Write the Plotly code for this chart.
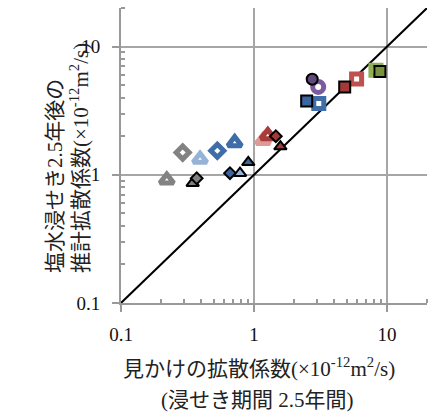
import plotly.graph_objects as go

# Apparent vs. estimated chloride diffusion coefficients (x10^-12 m2/s)
# Open markers: one group of specimens; black-edged markers: the other group.
open_labels = ["gray_tri", "gray_dia", "lblue_tri", "blue_dia", "blue_tri",
               "pink_tri", "red_tri", "purple_cir", "blue_sq", "red_sq", "green_sq"]
open_x = [0.221, 0.291, 0.393, 0.53, 0.716, 1.17, 1.27, 3.04, 3.07, 5.91, 8.26]
open_y = [0.91, 1.49, 1.32, 1.54, 1.78, 1.85, 2.02, 4.85, 3.6, 5.6, 6.54]

solid_labels = ["gray_tri", "gray_dia", "blue_dia", "lblue_tri", "blue_tri",
                "red_dia", "red_tri", "purple_cir", "blue_sq", "red_sq", "green_sq"]
solid_x = [0.346, 0.371, 0.66, 0.785, 0.906, 1.46, 1.58, 2.74, 2.49, 4.81, 8.85]
solid_y = [0.86, 0.94, 1.03, 1.03, 1.25, 2.0, 1.66, 5.57, 3.77, 4.85, 6.38]

# Reference line y = x
line_x = [0.1, 20]
line_y = [0.1, 20]

major_ticks = [0.1, 1, 10]
major_text = ["0.1", "1", "10"]
minor_ticks = [0.2, 0.3, 0.4, 0.5, 0.6, 0.7, 0.8, 0.9,
               2, 3, 4, 5, 6, 7, 8, 9, 20]

# Styles
open_style = {
    "gray_tri": ("triangle-up", "#828282", 12),
    "gray_dia": ("diamond", "#828282", 10),
    "lblue_tri": ("triangle-up", "#95b3d7", 12),
    "blue_dia": ("diamond", "#3f6da8", 10),
    "blue_tri": ("triangle-up", "#3f6da8", 12),
    "pink_tri": ("triangle-up", "#dc9a98", 12),
    "red_tri": ("triangle-up", "#a83c3a", 12),
    "purple_cir": ("circle", "#7b5b9e", 11),
    "blue_sq": ("square", "#3f6da8", 10),
    "red_sq": ("square", "#c0504d", 10),
    "green_sq": ("square", "#8fb153", 10),
}
solid_style = {
    "gray_tri": ("triangle-up", "#808080", 11),
    "gray_dia": ("diamond", "#808080", 9),
    "blue_dia": ("diamond", "#3a66a0", 9),
    "lblue_tri": ("triangle-up", "#95b3d7", 11),
    "blue_tri": ("triangle-up", "#3a66a0", 11),
    "red_dia": ("diamond", "#a33a38", 9),
    "red_tri": ("triangle-up", "#a33a38", 11),
    "purple_cir": ("circle", "#604a7b", 11),
    "blue_sq": ("square", "#3a66a0", 11),
    "red_sq": ("square", "#a33a38", 11),
    "green_sq": ("square", "#77933c", 11),
}

FONT = "Liberation Serif, 'Times New Roman', 'Noto Sans CJK JP', serif"
TITLE_SIZE = 21

fig = go.Figure()

fig.add_trace(go.Scatter(
    x=line_x, y=line_y, mode="lines",
    line=dict(color="black", width=2), hoverinfo="skip", showlegend=False))

for lab, xv, yv in zip(open_labels, open_x, open_y):
    sym, col, size = open_style[lab]
    fig.add_trace(go.Scatter(
        x=[xv], y=[yv], mode="markers", name=lab, showlegend=False,
        marker=dict(symbol=sym, size=size, color="white",
                    line=dict(color=col, width=5))))

for lab, xv, yv in zip(solid_labels, solid_x, solid_y):
    sym, col, size = solid_style[lab]
    fig.add_trace(go.Scatter(
        x=[xv], y=[yv], mode="markers", name=lab, showlegend=False,
        marker=dict(symbol=sym, size=size, color=col,
                    line=dict(color="black", width=2))))

axis_common = dict(
    type="log",
    range=[-1, 1.30103],
    tickmode="array",
    tickvals=major_ticks,
    ticktext=major_text,
    ticks="outside",
    ticklen=7,
    tickwidth=2,
    tickcolor="#999999",
    showgrid=True,
    gridcolor="#a6a6a6",
    gridwidth=2,
    showline=True,
    linecolor="#999999",
    linewidth=2,
    zeroline=False,
    tickfont=dict(family=FONT, size=19, color="#111111"),
    minor=dict(tickmode="array", tickvals=minor_ticks, ticks="inside",
               ticklen=4, tickwidth=2, tickcolor="#999999", showgrid=False),
)

fig.update_layout(
    width=429, height=419,
    margin=dict(l=121, r=2, t=8, b=116),
    paper_bgcolor="white", plot_bgcolor="white",
    xaxis=dict(axis_common, ticklabelstandoff=6),
    yaxis=dict(axis_common, ticklabelstandoff=8),
    font=dict(family=FONT, size=19, color="#222222"),
)

title_font = dict(family=FONT, size=TITLE_SIZE, color="#222222")

# Axis titles
fig.add_annotation(
    text="見かけの拡散係数(×10<sup>-12</sup>m<sup>2</sup>/s)",
    xref="paper", yref="paper", x=0.451, y=-0.218,
    xanchor="center", yanchor="middle", showarrow=False, font=title_font)
fig.add_annotation(
    text="(浸せき期間 2.5年間)",
    xref="paper", yref="paper", x=0.445, y=-0.330,
    xanchor="center", yanchor="middle", showarrow=False, font=title_font)
fig.add_annotation(
    text="塩水浸せき2.5年後の",
    xref="paper", yref="paper", x=-0.2157, y=0.095,
    xanchor="center", yanchor="bottom", textangle=-90, showarrow=False,
    font=title_font)
fig.add_annotation(
    text="推計拡散係数(×10<sup>-12</sup>m<sup>2</sup>/s)",
    xref="paper", yref="paper", x=-0.134, y=0.095,
    xanchor="center", yanchor="bottom", textangle=-90, showarrow=False,
    font=title_font)

fig.write_html("out.html")
